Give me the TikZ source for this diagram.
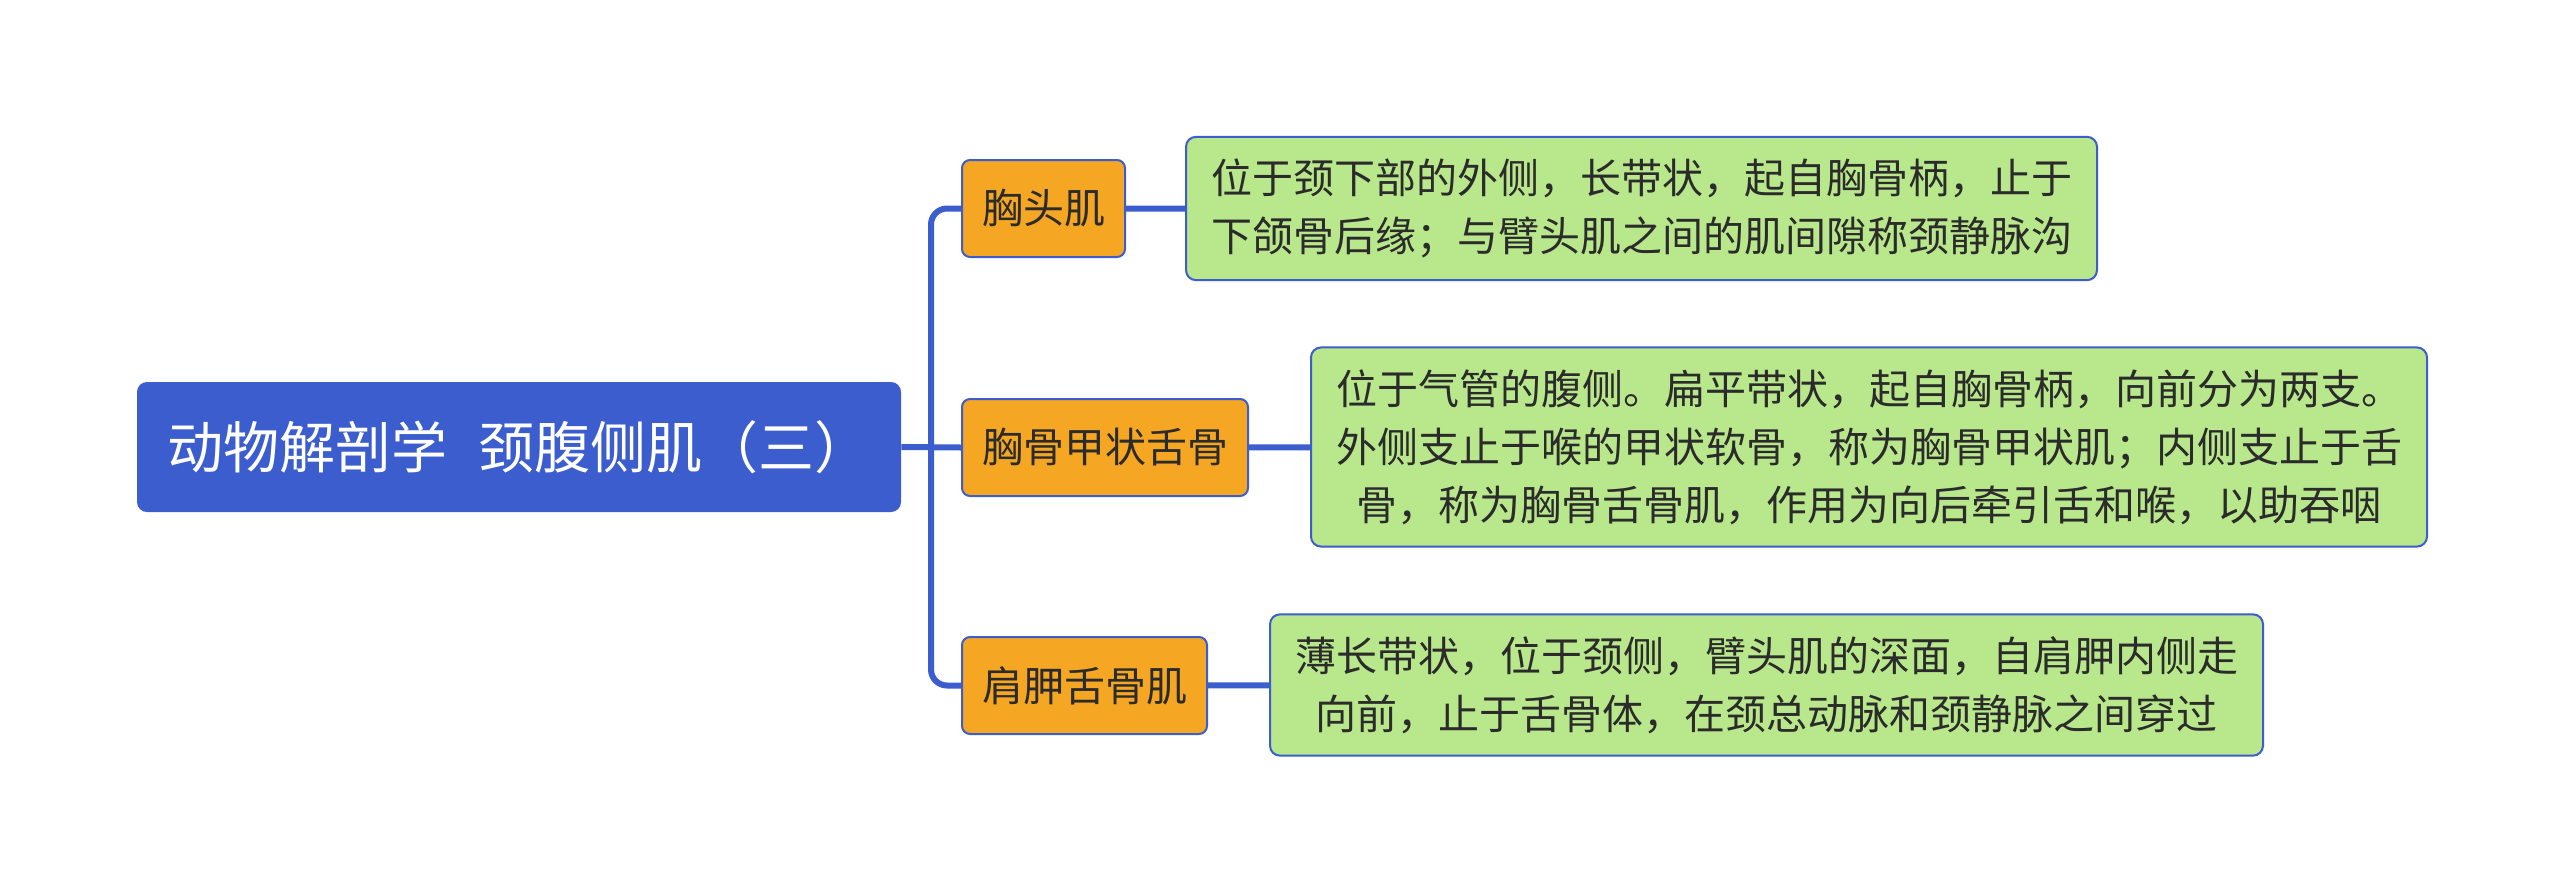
\documentclass[tikz,border=0pt]{standalone}
\usepackage{fontspec}
\setmainfont{Noto Sans CJK SC}
\usetikzlibrary{positioning}
\definecolor{rootblue}{HTML}{3B5DCD}
\definecolor{topicorange}{HTML}{F5A623}
\definecolor{notegreen}{HTML}{B9E78C}
\definecolor{textgray}{HTML}{2B2B2B}
\tikzset{
	root/.style={draw=none,fill=rootblue,rounded corners=5pt,text=white,font=\fontsize{28}{33}\selectfont,minimum width=382pt,minimum height=65pt},
	topic/.style={draw=rootblue,line width=1pt,fill=topicorange,rounded corners=4pt,text=textgray,font=\fontsize{20.5}{29}\selectfont,minimum height=48.5pt,inner xsep=10pt,anchor=west},
	note/.style={draw=rootblue,line width=1pt,fill=notegreen,rounded corners=5pt,text=textgray,font=\fontsize{20.5}{29}\selectfont,align=center,inner xsep=12.5pt,inner ysep=11pt,anchor=west},
	link/.style={draw=rootblue,line width=3pt,rounded corners=8pt}
}
\begin{document}
\begin{tikzpicture}[x=0.5pt,y=-0.5pt]
				\useasboundingbox (0,0) rectangle (2560,895);
				\node [root] (r) at (519,447) {动物解剖学\hspace{0.55em}颈腹侧肌（三）};
				\node [topic] (t1) at (961,208.5) {胸头肌};
				\node [topic] (t2) at (961,447.5) {胸骨甲状舌骨};
				\node [topic] (t3) at (961,685.5) {肩胛舌骨肌};
				\node [note] (n1) at (1185,208.5) {位于颈下部的外侧，长带状，起自胸骨柄，止于\\下颌骨后缘；与臂头肌之间的肌间隙称颈静脉沟};
				\node [note] (n2) at (1310,447) {位于气管的腹侧。扁平带状，起自胸骨柄，向前分为两支。\\外侧支止于喉的甲状软骨，称为胸骨甲状肌；内侧支止于舌\\骨，称为胸骨舌骨肌，作用为向后牵引舌和喉，以助吞咽};
				\node [note] (n3) at (1269,685) {薄长带状，位于颈侧，臂头肌的深面，自肩胛内侧走\\向前，止于舌骨体，在颈总动脉和颈静脉之间穿过};
				\coordinate (trunk) at (931,447);
				\path [link] (r.east) -- (t2.west)
						  (trunk) |- (t1.west)
						  (trunk) |- (t3.west)
						  (t1) -- (n1)
						  (t2) -- (n2)
						  (t3) -- (n3);
			\end{tikzpicture}
\end{document}
